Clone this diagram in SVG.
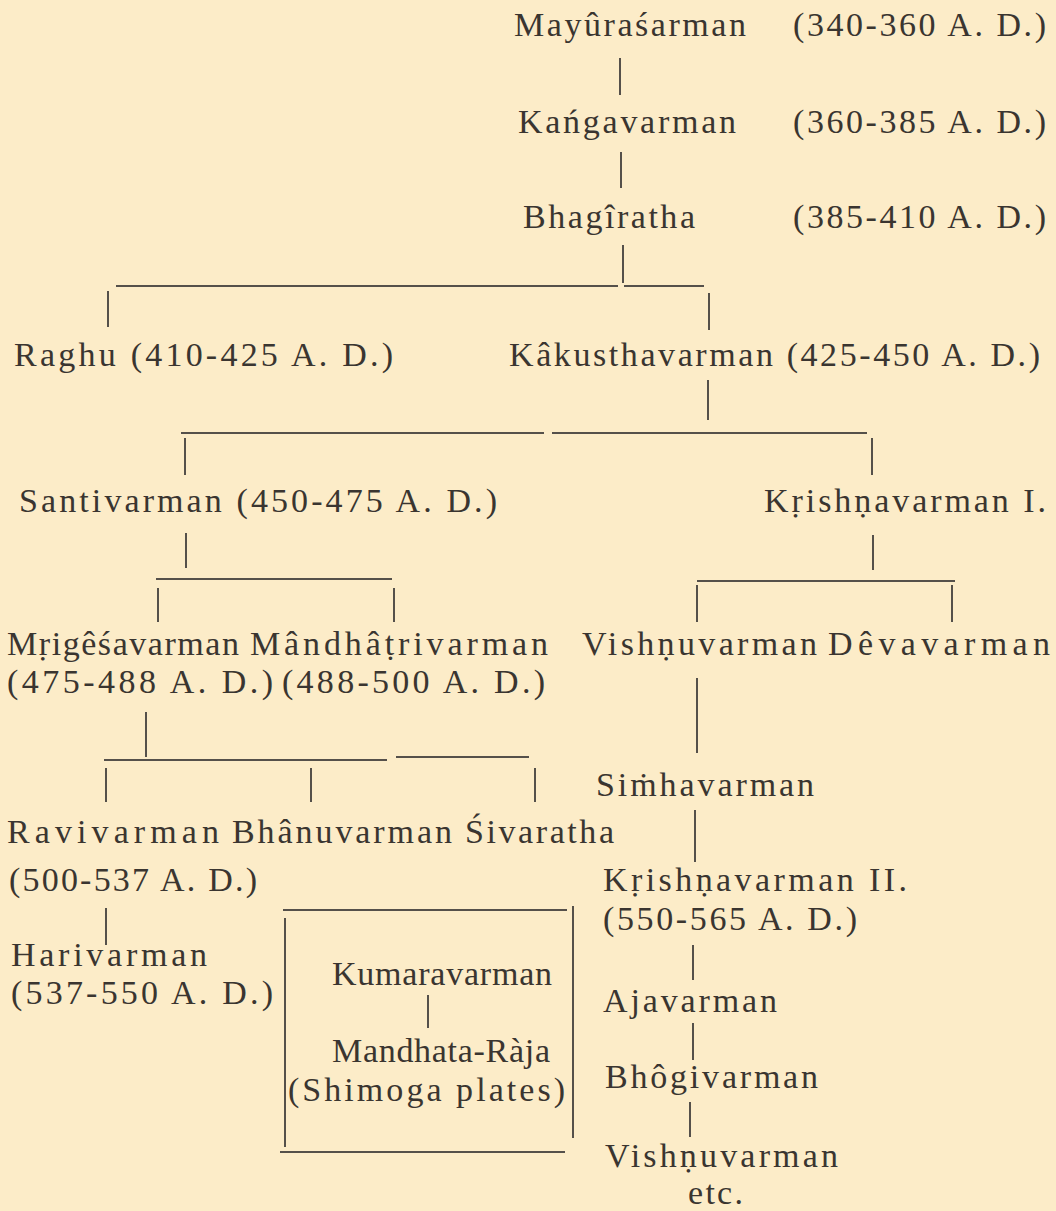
<svg xmlns="http://www.w3.org/2000/svg" width="1056" height="1211" viewBox="0 0 1056 1211">
<style>
text{font-family:"Liberation Serif","Times New Roman",serif;font-size:34px;fill:#3a3530}
line{stroke:#55504a;stroke-width:2}
</style>
<rect width="1056" height="1211" fill="#fcecc8"/>
<g id="connectors">
<line x1="620" y1="58" x2="620" y2="95"/>
<line x1="621" y1="152" x2="621" y2="188"/>
<line x1="623" y1="245" x2="623" y2="283"/>
<line x1="116" y1="286" x2="618" y2="286"/>
<line x1="624" y1="286" x2="704" y2="286"/>
<line x1="108" y1="291" x2="108" y2="327"/>
<line x1="709" y1="293" x2="709" y2="330"/>
<line x1="708" y1="380" x2="708" y2="420"/>
<line x1="181" y1="433" x2="544" y2="433"/>
<line x1="552" y1="433" x2="867" y2="433"/>
<line x1="185" y1="438" x2="185" y2="475"/>
<line x1="872" y1="438" x2="872" y2="475"/>
<line x1="186" y1="533" x2="186" y2="568"/>
<line x1="873" y1="535" x2="873" y2="570"/>
<line x1="156" y1="579" x2="392" y2="579"/>
<line x1="697" y1="581" x2="955" y2="581"/>
<line x1="158" y1="588" x2="158" y2="622"/>
<line x1="394" y1="588" x2="394" y2="622"/>
<line x1="697" y1="585" x2="697" y2="622"/>
<line x1="952" y1="585" x2="952" y2="622"/>
<line x1="146" y1="712" x2="146" y2="757"/>
<line x1="697" y1="678" x2="697" y2="753"/>
<line x1="104" y1="760" x2="387" y2="760"/>
<line x1="396" y1="757" x2="529" y2="757"/>
<line x1="106" y1="768" x2="106" y2="802"/>
<line x1="311" y1="768" x2="311" y2="802"/>
<line x1="535" y1="768" x2="535" y2="802"/>
<line x1="695" y1="810" x2="695" y2="862"/>
<line x1="106" y1="908" x2="106" y2="945"/>
<line x1="428" y1="995" x2="428" y2="1028"/>
<line x1="693" y1="945" x2="693" y2="980"/>
<line x1="693" y1="1023" x2="693" y2="1060"/>
<line x1="690" y1="1102" x2="690" y2="1137"/>
</g>
<g id="n-mayurasarman"><text x="514" y="36" textLength="232" lengthAdjust="spacing">Mayûraśarman</text><text x="793" y="36" textLength="253" lengthAdjust="spacing">(340-360 A. D.)</text></g>
<g id="n-kangavarman"><text x="518" y="133" textLength="218" lengthAdjust="spacing">Kańgavarman</text><text x="793" y="133" textLength="253" lengthAdjust="spacing">(360-385 A. D.)</text></g>
<g id="n-bhagiratha"><text x="523" y="228" textLength="172" lengthAdjust="spacing">Bhagîratha</text><text x="793" y="228" textLength="253" lengthAdjust="spacing">(385-410 A. D.)</text></g>
<g id="n-raghu"><text x="14" y="366" textLength="379" lengthAdjust="spacing">Raghu (410-425 A. D.)</text></g>
<g id="n-kakusthavarman"><text x="509" y="366" textLength="531" lengthAdjust="spacing">Kâkusthavarman (425-450 A. D.)</text></g>
<g id="n-santivarman"><text x="19" y="512" textLength="478" lengthAdjust="spacing">Santivarman (450-475 A. D.)</text></g>
<g id="n-krishnavarman1"><text x="764" y="512" textLength="282" lengthAdjust="spacing">Kṛishṇavarman I.</text></g>
<g id="n-mrigesavarman"><text x="7" y="655" textLength="232" lengthAdjust="spacing">Mṛigêśavarman</text><text x="7" y="693" textLength="266" lengthAdjust="spacing">(475-488 A. D.)</text></g>
<g id="n-mandhatrivarman"><text x="250" y="655" textLength="298" lengthAdjust="spacing">Mândhâṭrivarman</text><text x="282" y="693" textLength="263" lengthAdjust="spacing">(488-500 A. D.)</text></g>
<g id="n-vishnuvarman1"><text x="582" y="655" textLength="235" lengthAdjust="spacing">Vishṇuvarman</text></g>
<g id="n-devavarman"><text x="828" y="655" textLength="222" lengthAdjust="spacing">Dêvavarman</text></g>
<g id="n-simhavarman"><text x="596" y="796" textLength="218" lengthAdjust="spacing">Siṁhavarman</text></g>
<g id="n-ravivarman"><text x="7" y="843" textLength="212" lengthAdjust="spacing">Ravivarman</text><text x="9" y="891" textLength="248" lengthAdjust="spacing">(500-537 A. D.)</text></g>
<g id="n-bhanuvarman"><text x="232" y="843" textLength="220" lengthAdjust="spacing">Bhânuvarman</text></g>
<g id="n-sivaratha"><text x="465" y="843" textLength="149" lengthAdjust="spacing">Śivaratha</text></g>
<g id="n-krishnavarman2"><text x="603" y="891" textLength="304" lengthAdjust="spacing">Kṛishṇavarman II.</text><text x="603" y="930" textLength="254" lengthAdjust="spacing">(550-565 A. D.)</text></g>
<g id="n-harivarman"><text x="11" y="966" textLength="196" lengthAdjust="spacing">Harivarman</text><text x="11" y="1004" textLength="262" lengthAdjust="spacing">(537-550 A. D.)</text></g>
<g id="n-shimoga-box">
<line x1="283" y1="910" x2="567" y2="910"/>
<line x1="285" y1="918" x2="285" y2="1147"/>
<line x1="280" y1="1152" x2="565" y2="1152"/>
<line x1="573" y1="906" x2="573" y2="1138"/>
<text x="332" y="985" textLength="220" lengthAdjust="spacing">Kumaravarman</text>
<text x="332" y="1062" textLength="218" lengthAdjust="spacing">Mandhata-Ràja</text>
<text x="288" y="1101" textLength="277" lengthAdjust="spacing">(Shimoga plates)</text>
</g>
<g id="n-ajavarman"><text x="603" y="1012" textLength="174" lengthAdjust="spacing">Ajavarman</text></g>
<g id="n-bhogivarman"><text x="605" y="1088" textLength="213" lengthAdjust="spacing">Bhôgivarman</text></g>
<g id="n-vishnuvarman2"><text x="605" y="1167" textLength="233" lengthAdjust="spacing">Vishṇuvarman</text><text x="688" y="1204" textLength="55" lengthAdjust="spacing">etc.</text></g>
</svg>
